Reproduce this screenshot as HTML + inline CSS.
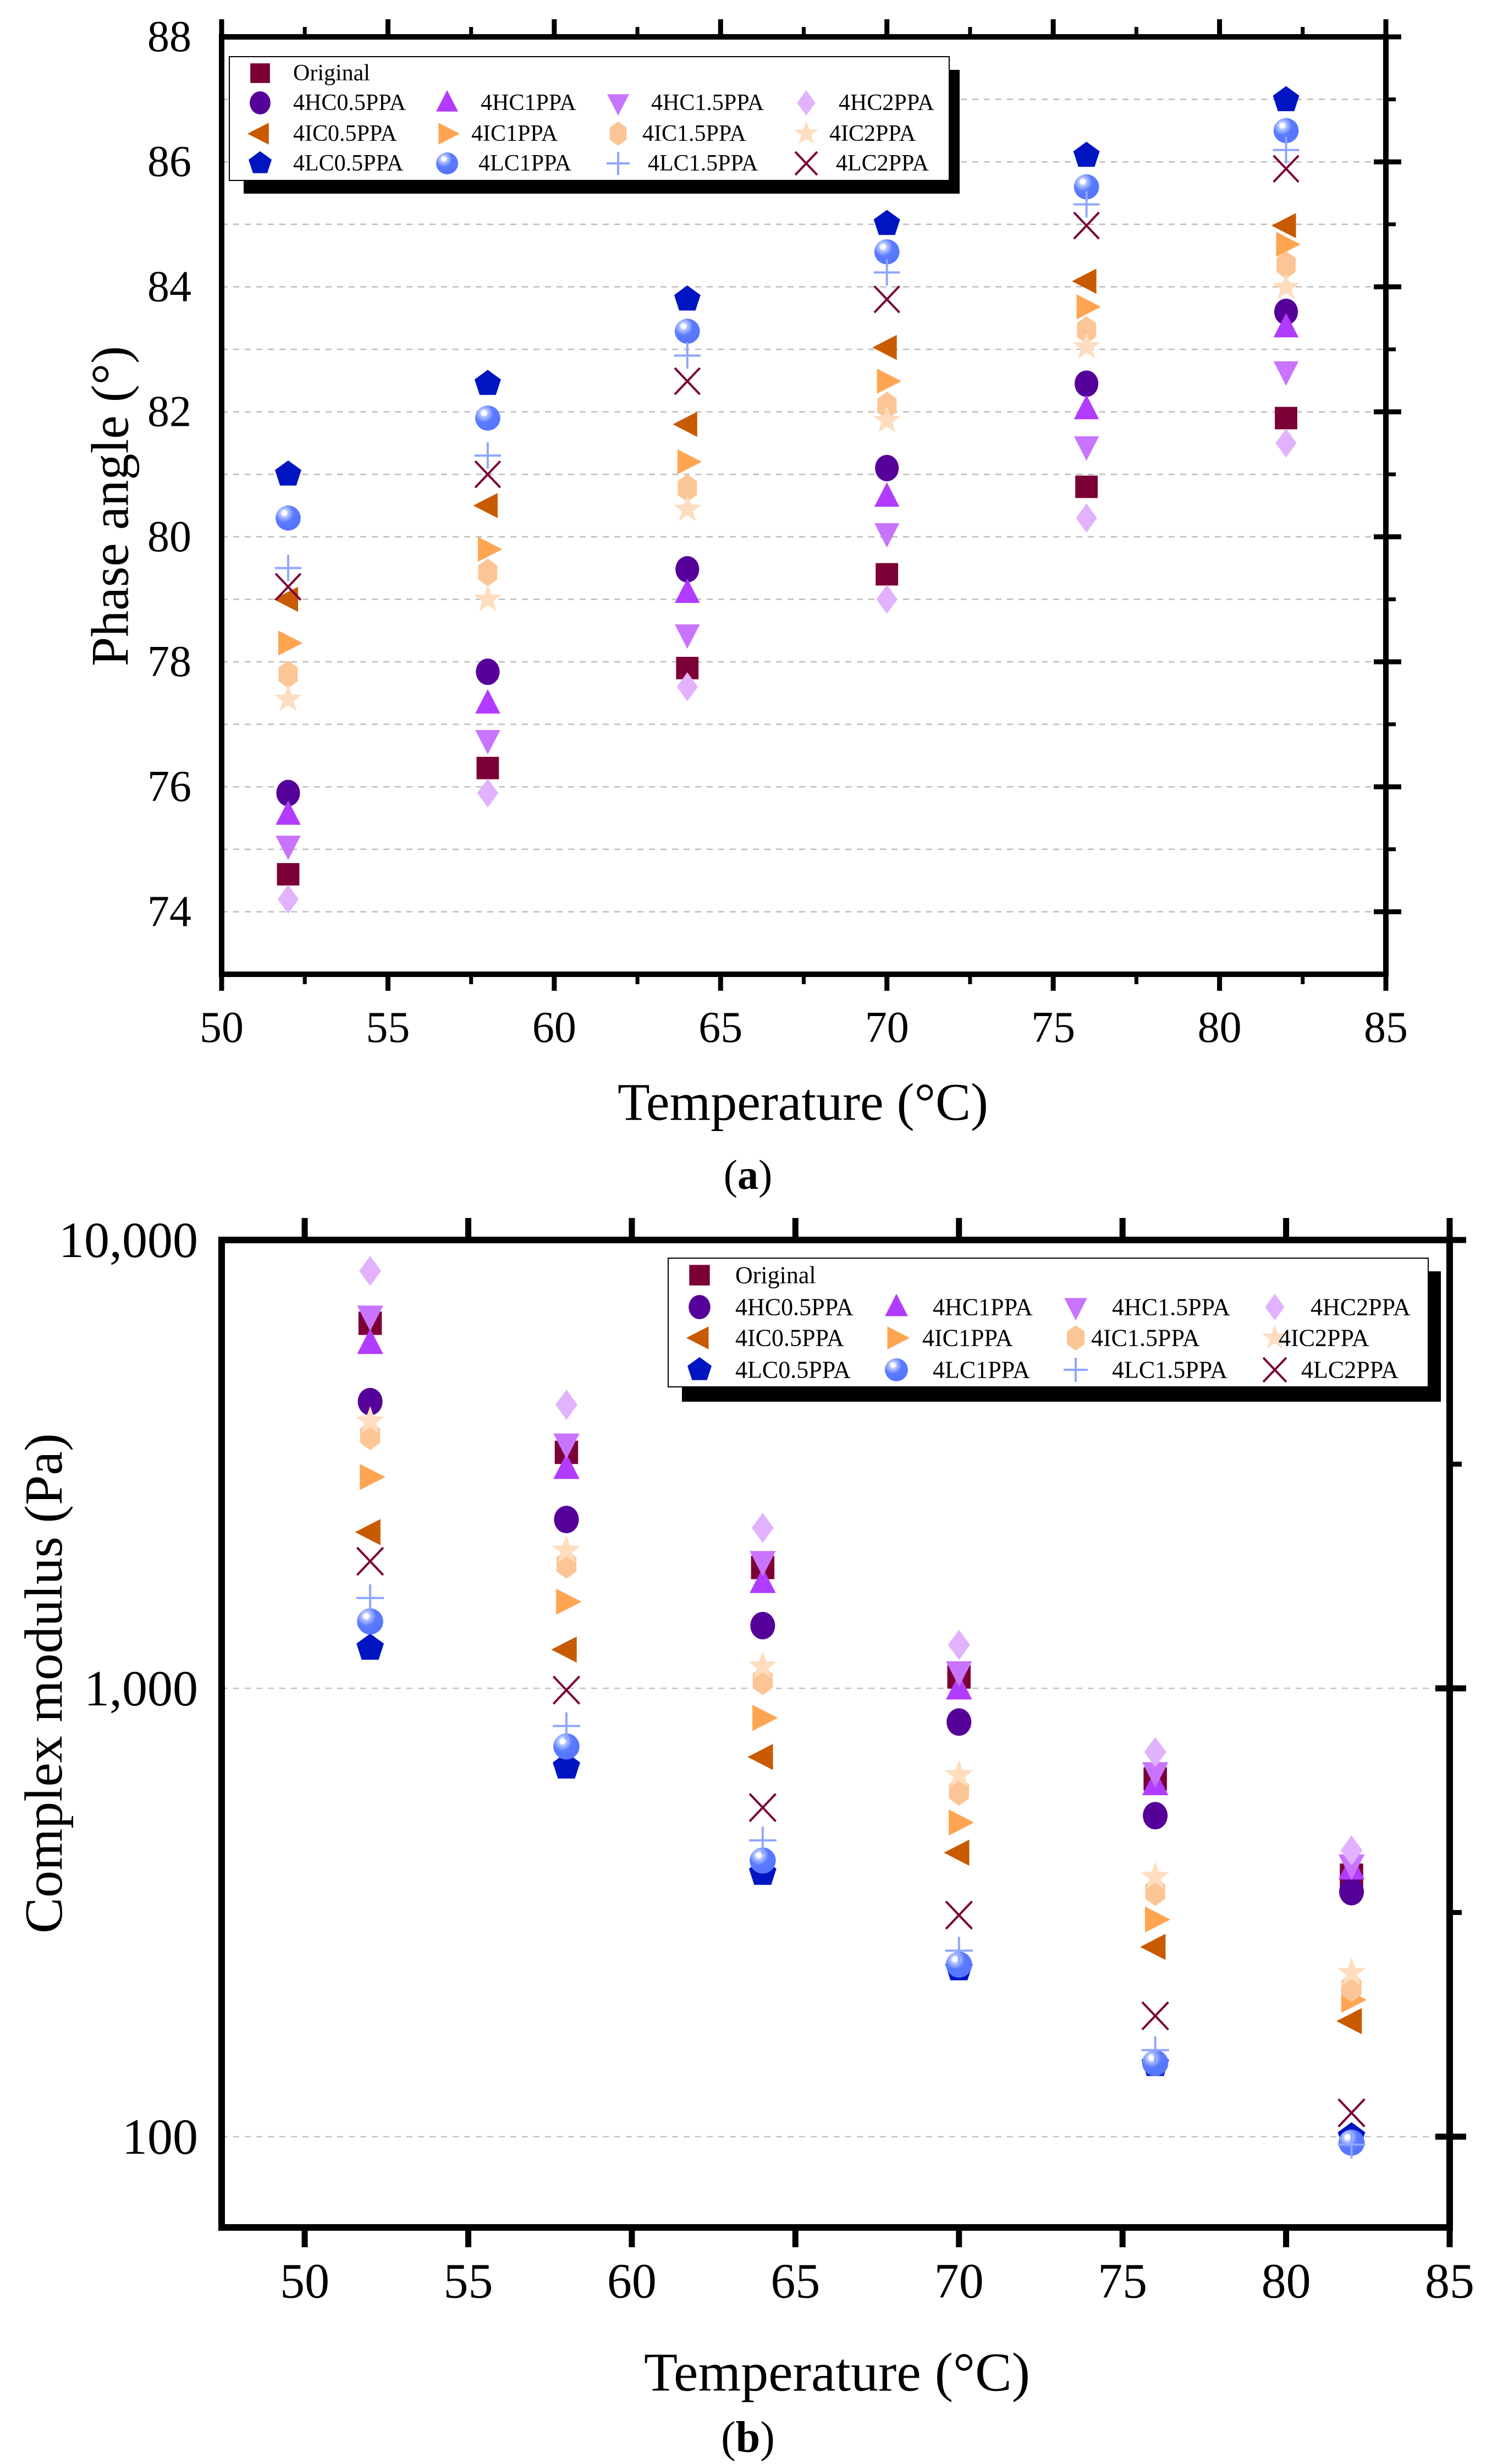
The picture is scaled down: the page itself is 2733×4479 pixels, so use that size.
<!DOCTYPE html>
<html><head><meta charset="utf-8"><style>
html,body{margin:0;padding:0;background:#fff;}
svg{display:block;font-family:"Liberation Serif",serif;}
</style></head><body>
<svg id="fig" width="2733" height="4479" viewBox="0 0 2733 4479" xmlns="http://www.w3.org/2000/svg">
<defs>
<radialGradient id="sphere" cx="0.35" cy="0.3" r="0.75">
<stop offset="0" stop-color="#ffffff"/><stop offset="0.12" stop-color="#ffffff"/><stop offset="0.2" stop-color="#b9c7ff"/><stop offset="0.35" stop-color="#8aa2ff"/><stop offset="0.5" stop-color="#5a7bff"/><stop offset="1" stop-color="#5574ff"/>
</radialGradient>
</defs>
<g id="chartA"></g>
<g id="chartB"></g>
</svg>
<script>
const temps = [52, 58, 64, 70, 76, 82];
const seriesNames = ["Original","4HC0.5PPA","4HC1PPA","4HC1.5PPA","4HC2PPA","4IC0.5PPA","4IC1PPA","4IC1.5PPA","4IC2PPA","4LC0.5PPA","4LC1PPA","4LC1.5PPA","4LC2PPA"];
// Phase angle (deg)
const phaseOriginal = [74.6, 76.3, 77.9, 79.4, 80.8, 81.9];
const phaseHC05 = [75.9, 77.84, 79.48, 81.1, 82.45, 83.6];
const phaseHC1 = [75.55, 77.33, 79.1, 80.64, 82.04, 83.35];
const phaseHC15 = [75.06, 76.75, 78.44, 80.06, 81.45, 82.65];
const phaseHC2 = [74.2, 75.9, 77.6, 79.0, 80.3, 81.5];
const phaseIC05 = [79.0, 80.5, 81.8, 83.03, 84.09, 84.98];
const phaseIC1 = [78.3, 79.8, 81.2, 82.49, 83.68, 84.68];
const phaseIC15 = [77.8, 79.43, 80.78, 82.1, 83.31, 84.35];
const phaseIC2 = [77.4, 79.0, 80.44, 81.86, 83.04, 83.99];
const phaseLC05 = [81.0, 82.45, 83.8, 85.01, 86.1, 86.99];
const phaseLC1 = [80.3, 81.9, 83.29, 84.56, 85.6, 86.5];
const phaseLC15 = [79.5, 81.3, 82.9, 84.23, 85.32, 86.19];
const phaseLC2 = [79.2, 81.0, 82.49, 83.8, 84.98, 85.89];
// Complex modulus (Pa)
const modOriginal = [6520, 3360, 1860, 1060, 628, 383];
const modHC05 = [4360, 2380, 1380, 841, 520, 352];
const modHC1 = [5870, 3090, 1720, 996, 609, 395];
const modHC15 = [6770, 3510, 1920, 1090, 649, 404];
const modHC2 = [8530, 4290, 2280, 1250, 721, 435];
const modIC05 = [2230, 1220, 703, 430, 265, 181];
const modIC1 = [2960, 1560, 859, 502, 305, 202];
const modIC15 = [3660, 1890, 1040, 589, 352, 215];
const modIC2 = [3940, 2030, 1120, 641, 380, 232];
const modLC05 = [1230, 668, 387, 237, 145, 100];
const modLC1 = [1410, 742, 413, 242, 146, 97];
const modLC15 = [1590, 824, 458, 260, 156, 96];
const modLC2 = [1920, 991, 542, 312, 186, 113];
const xTicks = [50, 55, 60, 65, 70, 75, 80, 85];
const phaseTicks = [74, 76, 78, 80, 82, 84, 86, 88];
const modTicks = [100, 1000, 10000];
const modTickLabels = ["100", "1,000", "10,000"];

const phaseSeries = [phaseOriginal, phaseHC05, phaseHC1, phaseHC15, phaseHC2, phaseIC05, phaseIC1, phaseIC15, phaseIC2, phaseLC05, phaseLC1, phaseLC15, phaseLC2];
const modSeries = [modOriginal, modHC05, modHC1, modHC15, modHC2, modIC05, modIC1, modIC15, modIC2, modLC05, modLC1, modLC15, modLC2];
const shapes = ["square","circle","up","down","diamond","left","right","hexagon","star","pentagon","sphere","plus","cross"];
const colors = ["#7b0035","#56009a","#b13bff","#c974ff","#e2b2ff","#c85a00","#ffa552","#fcc595","#ffddbe","#0015c2","#5574ff","#8fa6ff","#7b0035"];

const NS = "http://www.w3.org/2000/svg";
function mk(tag, attrs, parent) {
  const e = document.createElementNS(NS, tag);
  for (const k in attrs) e.setAttribute(k, attrs[k]);
  parent.appendChild(e);
  return e;
}
function slug(s){return s.toLowerCase().replace(/\./g,'-');}
function poly(cx, cy, pts){return pts.map(p=>(cx+p[0]).toFixed(1)+","+(cy+p[1]).toFixed(1)).join(" ");}
function regular(n, r, rot){const a=[];for(let i=0;i<n;i++){const t=rot+i*2*Math.PI/n;a.push([r*Math.cos(t),r*Math.sin(t)]);}return a;}
function marker(parent, shape, color, cx, cy, s) {
  const h = s/2; let el;
  if (shape==="square") el = mk("rect",{x:cx-h*0.85,y:cy-h*0.85,width:s*0.85,height:s*0.85,fill:color},parent);
  else if (shape==="circle") el = mk("ellipse",{cx:cx,cy:cy,rx:h*0.9,ry:h,fill:color},parent);
  else if (shape==="sphere") el = mk("circle",{cx:cx,cy:cy,r:h*0.95,fill:"url(#sphere)"},parent);
  else if (shape==="up") el = mk("polygon",{points:poly(cx,cy,[[0,-h*1.1],[h*0.95,h*0.75],[-h*0.95,h*0.75]]),fill:color},parent);
  else if (shape==="down") el = mk("polygon",{points:poly(cx,cy,[[0,h*1.1],[h*0.95,-h*0.75],[-h*0.95,-h*0.75]]),fill:color},parent);
  else if (shape==="left") el = mk("polygon",{points:poly(cx,cy,[[-h*1.1,0],[h*0.75,-h*0.95],[h*0.75,h*0.95]]),fill:color},parent);
  else if (shape==="right") el = mk("polygon",{points:poly(cx,cy,[[h*1.1,0],[-h*0.75,-h*0.95],[-h*0.75,h*0.95]]),fill:color},parent);
  else if (shape==="diamond") el = mk("polygon",{points:poly(cx,cy,[[0,-h*1.1],[h*0.8,0],[0,h*1.1],[-h*0.8,0]]),fill:color},parent);
  else if (shape==="hexagon") el = mk("polygon",{points:poly(cx,cy,regular(6,h*1.05,-Math.PI/2).map(p=>[p[0]*0.8,p[1]])),fill:color},parent);
  else if (shape==="pentagon") el = mk("polygon",{points:poly(cx,cy,regular(5,h*1.05,-Math.PI/2)),fill:color},parent);
  else if (shape==="star") { const pts=[]; for(let i=0;i<10;i++){const r=i%2?h*0.45:h*1.1;const t=-Math.PI/2+i*Math.PI/5;pts.push([r*Math.cos(t),r*Math.sin(t)]);} el = mk("polygon",{points:poly(cx,cy,pts),fill:color},parent); }
  else if (shape==="plus") { el = mk("path",{d:`M${cx-h} ${cy}H${cx+h}M${cx} ${cy-h}V${cy+h}`,stroke:color,"stroke-width":4,fill:"none"},parent); }
  else if (shape==="cross") { el = mk("path",{d:`M${cx-h*0.95} ${cy-h}L${cx+h*0.95} ${cy+h}M${cx+h*0.95} ${cy-h}L${cx-h*0.95} ${cy+h}`,stroke:color,"stroke-width":4,fill:"none"},parent); }
  return el;
}
function text(parent, x, y, str, size, anchor, extra) {
  const t = mk("text", Object.assign({x:x,y:y,"font-size":size,"text-anchor":anchor||"middle",fill:"#000","dominant-baseline":"central"}, extra||{}), parent);
  t.textContent = str; return t;
}

/* ---------- Chart A ---------- */
(function(){
  const g = document.getElementById("chartA");
  const L=403,R=2520,T=67,B=1771, xmin=50,xmax=85,ymin=73,ymax=88;
  const X = v => L + (v-xmin)/(xmax-xmin)*(R-L);
  const Y = v => B - (v-ymin)/(ymax-ymin)*(B-T);
  for (let v=74; v<=87; v++) {
    const gl = mk("line",{x1:L,x2:R,y1:Y(v),y2:Y(v),stroke:"#bdbdbd","stroke-width":2.5,"stroke-dasharray":"11 10"},g);
    
    
  }
  xTicks.forEach(v=>{
    const tk = mk("path",{d:`M${X(v)} ${B}v30M${X(v)} ${T}v-32`,stroke:"#000","stroke-width":9},g);
    
    
    const lb = text(g, X(v), 1868, String(v), 80);
    
    
    if (v<85) { const mn = mk("path",{d:`M${X(v+2.5)} ${B}v18M${X(v+2.5)} ${T}v-18`,stroke:"#000","stroke-width":7},g);
      
       }
  });
  phaseTicks.forEach(v=>{
    const tk = mk("line",{x1:R-22,x2:R+28,y1:Y(v),y2:Y(v),stroke:"#000","stroke-width":9},g);
    
    
    const lb = text(g, 348, Y(v), String(v), 80, "end");
    
    
    if (v<88) { const mn = mk("line",{x1:R,x2:R+18,y1:Y(v+1),y2:Y(v+1),stroke:"#000","stroke-width":7},g);
      
       }
  });
  const frame = mk("rect",{x:L,y:T,width:R-L,height:B-T,fill:"none",stroke:"#000","stroke-width":10},g);
  
  
  phaseSeries.forEach((arr,si)=>{
    const sg = mk("g",{},g);
    
    
    arr.forEach((v,i)=>{
      const m = marker(sg, shapes[si], colors[si], X(temps[i]), Y(v), 48);
      
      
    });
  });
  const lg = mk("g",{},g);
  
  
  mk("rect",{x:443,y:127,width:1302,height:225,fill:"#000"},lg);
  mk("rect",{x:417,y:103,width:1309,height:225,fill:"#fff",stroke:"#000","stroke-width":2},lg);
  const rows=[133,187,243,297];
  const symX=[473,813,1124,1466];
  const layout=[[0,0]];
  for(let r=1;r<4;r++)for(let c=0;c<4;c++)layout.push([r,c]);
  layout.forEach((rc,si)=>{
    const [r,c]=rc;
    const it = mk("g",{},lg);
    
    
    marker(it, shapes[si], colors[si], symX[c], rows[r], 42);
    const tx = c===0?533:(c===1?[874,857,870][r-1]:(c===2?[1184,1168,1178][r-1]:[1525,1508,1520][r-1]));
    text(it, tx, rows[r], seriesNames[si], 42, "start");
  });
  const yt = text(g, 0, 0, "Phase angle (°)", 96, "middle", {transform:"translate(200,920) rotate(-90)"});
  
  
  const xt = text(g, 1460, 2003, "Temperature (°C)", 96);
  
  
  const cap = mk("text",{x:1360,y:2136,"font-size":76,"text-anchor":"middle","dominant-baseline":"central"},g);
  cap.innerHTML = '(<tspan font-weight="bold">a</tspan>)';
  
  
})();

/* ---------- Chart B ---------- */
(function(){
  const g = document.getElementById("chartB");
  const L=403,R=2636,T=2254,B=4049, xmin=47.46,xmax=85;
  const lmax=4, lmin=4-(B-T)/815;
  const X = v => L + (v-xmin)/(xmax-xmin)*(R-L);
  const Y = v => B - (Math.log10(v)-lmin)/(lmax-lmin)*(B-T);
  [100,1000].forEach(v=>{
    const gl = mk("line",{x1:L,x2:R,y1:Y(v),y2:Y(v),stroke:"#c4c4c4","stroke-width":2.5,"stroke-dasharray":"11 10"},g);
    
    
  });
  xTicks.forEach(v=>{
    const tk = mk("path",{d:`M${X(v)} ${B}v36M${X(v)} ${T}v-40`,stroke:"#000","stroke-width":11},g);
    
    
    const lb = text(g, X(v), 4147, String(v), 90);
    
    
  });
  modTicks.forEach((v,i)=>{
    const tk = mk("line",{x1:R-26,x2:R+30,y1:Y(v),y2:Y(v),stroke:"#000","stroke-width":11},g);
    
    
    const lb = text(g, 360, Y(v), modTickLabels[i], 92, "end");
    
    
  });
  [316.2, 3162].forEach(v=>{
    const mn = mk("line",{x1:R,x2:R+22,y1:Y(v),y2:Y(v),stroke:"#000","stroke-width":9},g);
    
    
  });
  const frame = mk("rect",{x:L,y:T,width:R-L,height:B-T,fill:"none",stroke:"#000","stroke-width":12},g);
  
  
  modSeries.forEach((arr,si)=>{
    const sg = mk("g",{},g);
    
    
    arr.forEach((v,i)=>{
      const m = marker(sg, shapes[si], colors[si], X(temps[i]), Y(v), 50);
      
      
    });
  });
  const lg = mk("g",{},g);
  
  
  mk("rect",{x:1240,y:2311,width:1380,height:237,fill:"#000"},lg);
  mk("rect",{x:1215,y:2287,width:1382,height:234,fill:"#fff",stroke:"#000","stroke-width":2},lg);
  const rows=[2318,2376,2432,2490];
  const symX=[1272,1630,1956,2318];
  const layout=[[0,0]];
  for(let r=1;r<4;r++)for(let c=0;c<4;c++)layout.push([r,c]);
  layout.forEach((rc,si)=>{
    const [r,c]=rc;
    const it = mk("g",{},lg);
    
    
    marker(it, shapes[si], colors[si], symX[c], rows[r], 44);
    const tx = c===0?1337:(c===1?[1696,1677,1696][r-1]:(c===2?[2022,1984,2022][r-1]:[2383,2325,2366][r-1]));
    text(it, tx, rows[r], seriesNames[si], 44, "start");
  });
  const yt = text(g, 0, 0, "Complex modulus (Pa)", 98, "middle", {transform:"translate(80,3060) rotate(-90)"});
  
  
  const xt = text(g, 1522, 4312, "Temperature (°C)", 100);
  
  
  const cap = mk("text",{x:1360,y:4431,"font-size":80,"text-anchor":"middle","dominant-baseline":"central"},g);
  cap.innerHTML = '(<tspan font-weight="bold">b</tspan>)';
  
  
})();
</script>
</body></html>
